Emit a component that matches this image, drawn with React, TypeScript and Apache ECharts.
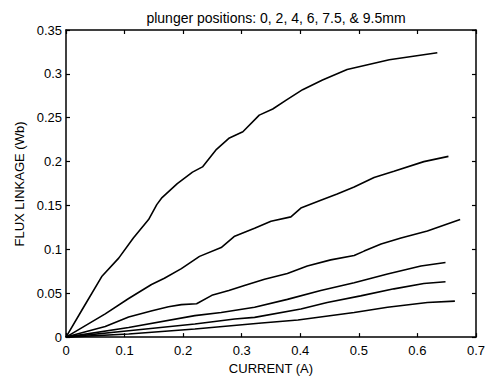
import React, { useEffect, useRef } from "react";
import * as echarts from "echarts";

const titleText = "plunger positions: 0, 2, 4, 6, 7.5, & 9.5mm";
const xName = "CURRENT (A)";
const yName = "FLUX LINKAGE (Wb)";

// [current (A), flux linkage (Wb)] for each plunger position
const pos0mm: number[][] = [
  [0, 0], [0.03, 0.034], [0.061, 0.069], [0.09, 0.09], [0.115, 0.113], [0.141, 0.134],
  [0.155, 0.151], [0.164, 0.159], [0.19, 0.175], [0.216, 0.188], [0.233, 0.194],
  [0.257, 0.214], [0.279, 0.227], [0.302, 0.234], [0.33, 0.253], [0.353, 0.26],
  [0.376, 0.27], [0.404, 0.282], [0.438, 0.293], [0.48, 0.305], [0.552, 0.316], [0.634, 0.324],
];
const pos2mm: number[][] = [
  [0, 0], [0.067, 0.0265], [0.107, 0.044], [0.146, 0.06], [0.168, 0.067], [0.197, 0.078],
  [0.228, 0.092], [0.265, 0.102], [0.288, 0.115], [0.322, 0.124], [0.35, 0.132],
  [0.384, 0.137], [0.401, 0.147], [0.435, 0.156], [0.463, 0.163], [0.492, 0.171],
  [0.526, 0.182], [0.56, 0.189], [0.611, 0.2], [0.653, 0.206],
];
const pos4mm: number[][] = [
  [0, 0], [0.067, 0.012], [0.107, 0.023], [0.147, 0.03], [0.175, 0.0345], [0.197, 0.037],
  [0.223, 0.038], [0.249, 0.0476], [0.278, 0.053], [0.306, 0.059], [0.339, 0.066],
  [0.378, 0.0725], [0.412, 0.081], [0.452, 0.088], [0.492, 0.093], [0.509, 0.098],
  [0.538, 0.106], [0.572, 0.113], [0.617, 0.121], [0.651, 0.129], [0.673, 0.134],
];
const pos6mm: number[][] = [
  [0, 0], [0.107, 0.011], [0.22, 0.0245], [0.265, 0.028], [0.322, 0.034], [0.378, 0.043],
  [0.435, 0.053], [0.492, 0.062], [0.549, 0.072], [0.606, 0.081], [0.648, 0.085],
];
const pos7p5mm: number[][] = [
  [0, 0], [0.107, 0.0073], [0.22, 0.015], [0.288, 0.0207], [0.322, 0.0225], [0.401, 0.032],
  [0.446, 0.0395], [0.503, 0.047], [0.56, 0.055], [0.611, 0.061], [0.648, 0.063],
];
const pos9p5mm: number[][] = [
  [0, 0], [0.107, 0.0035], [0.22, 0.0092], [0.334, 0.016], [0.396, 0.0195], [0.492, 0.028],
  [0.549, 0.034], [0.617, 0.0395], [0.664, 0.041],
];

const curves = [pos0mm, pos2mm, pos4mm, pos6mm, pos7p5mm, pos9p5mm];
const xTicks = [0, 0.1, 0.2, 0.3, 0.4, 0.5, 0.6, 0.7];
const yTicks = [0, 0.05, 0.1, 0.15, 0.2, 0.25, 0.3, 0.35];

const FONT = "'Liberation Sans', Arial, Helvetica, sans-serif";

export default function App() {
  const ref = useRef<HTMLDivElement>(null);
  useEffect(() => {
    if (!ref.current) return;
    const chart = echarts.init(ref.current, undefined, { renderer: "svg" });
    const axisLine = { show: true, onZero: false, lineStyle: { color: "#000", width: 1.5 } };
    const tick = { show: true, inside: true, length: 4, lineStyle: { color: "#000", width: 1.2 } };
    const fmt = (v: number) => String(+v.toFixed(2));
    chart.setOption({
      animation: false,
      backgroundColor: "#fff",
      textStyle: { fontFamily: FONT },
      title: {
        text: titleText,
        left: 271,
        top: 6,
        textAlign: "center",
        textStyle: { fontSize: 14, fontWeight: "normal", color: "#000", fontFamily: FONT },
      },
      grid: { left: 66, right: 11, top: 30, bottom: 42 },
      xAxis: [
        {
          type: "value",
          min: xTicks[0],
          max: xTicks[xTicks.length - 1],
          interval: 0.1,
          position: "bottom",
          axisLine,
          axisTick: tick,
          splitLine: { show: false },
          axisLabel: { color: "#000", fontSize: 13, margin: 7, formatter: fmt, fontFamily: FONT },
          name: xName,
          nameLocation: "middle",
          nameGap: 24,
          nameTextStyle: { color: "#000", fontSize: 13, fontFamily: FONT },
        },
        {
          type: "value",
          min: xTicks[0],
          max: xTicks[xTicks.length - 1],
          interval: 0.1,
          position: "top",
          axisLine,
          axisTick: tick,
          splitLine: { show: false },
          axisLabel: { show: false },
        },
      ],
      yAxis: [
        {
          type: "value",
          min: yTicks[0],
          max: yTicks[yTicks.length - 1],
          interval: 0.05,
          position: "left",
          axisLine,
          axisTick: tick,
          splitLine: { show: false },
          axisLabel: { color: "#000", fontSize: 13, margin: 4, formatter: fmt, fontFamily: FONT },
        },
        {
          type: "value",
          min: yTicks[0],
          max: yTicks[yTicks.length - 1],
          interval: 0.05,
          position: "right",
          axisLine,
          axisTick: tick,
          splitLine: { show: false },
          axisLabel: { show: false },
        },
      ],
      graphic: [
        {
          type: "text",
          x: 19,
          y: 184,
          rotation: Math.PI / 2,
          style: {
            text: yName,
            fontSize: 13,
            fontFamily: FONT,
            fill: "#000",
            align: "center",
            verticalAlign: "middle",
          },
        },
      ],
      series: curves.map((data) => ({
        type: "line",
        xAxisIndex: 0,
        yAxisIndex: 0,
        data,
        showSymbol: false,
        symbol: "none",
        lineStyle: { color: "#000", width: 1.6 },
        silent: true,
      })),
    });
    return () => chart.dispose();
  }, []);
  return <div ref={ref} style={{ width: 488, height: 380, position: "absolute", left: 0, top: 0 }} />;
}
